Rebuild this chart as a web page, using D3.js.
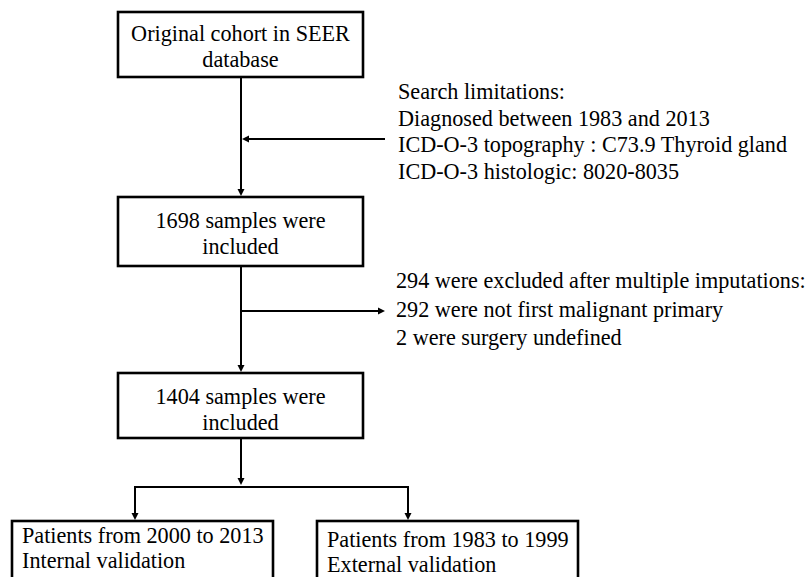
<!DOCTYPE html>
<html>
<head>
<meta charset="utf-8">
<script src="https://cdn.jsdelivr.net/npm/d3@7"></script>
<style>
  body { margin: 0; background: #fff; }
</style>
</head>
<body>
<div id="chart"></div>
<script>
// Flow chart contents
const box_labels = [
    ["Original cohort in SEER", "database"],
    ["1698 samples were", "included"],
    ["1404 samples were", "included"]
];
const split_labels = [
    ["Patients from 2000 to 2013", "Internal validation"],
    ["Patients from 1983 to 1999", "External validation"]
];
const search_notes = [
    "Search limitations:",
    "Diagnosed between 1983 and 2013",
    "ICD-O-3 topography : C73.9 Thyroid gland",
    "ICD-O-3 histologic: 8020-8035"
];
const exclusion_notes = [
    "294 were excluded after multiple imputations:",
    "292 were not first malignant primary",
    "2 were surgery undefined"
];

const chart_width = 810;
const chart_height = 577;
const font_family = '"Liberation Serif"';
const font_size = 22.2;

// layout
const main_left = 118, main_right = 363;
const spine_x = 241;
const box_top = [12, 197, 373];
const box_height = [65, 69, 65];
const box_text_offset = [29, 31, 31];
const split_left = [12, 317], split_right = [273, 578];
const split_top = 521, split_bottom = 610;
const split_text_offset = [22, 26];
const branch_y = 487;
const drop_x = [135, 408];

const svg = d3.create("svg")
    .attr("viewBox", [0, 0, chart_width, chart_height])
    .attr("width", chart_width)
    .attr("height", chart_height);

svg.append("rect")
    .attr("width", chart_width)
    .attr("height", chart_height)
    .attr("fill", "#fff");

function arrowHead(g, x, y, dir) {
    // tip at (x,y); dir: "down" | "left" | "right"
    const len = 7, half = 3.5;
    let pts;
    if (dir === "down") pts = [[x, y], [x - half, y - len], [x + half, y - len]];
    else if (dir === "left") pts = [[x, y], [x + len, y - half], [x + len, y + half]];
    else pts = [[x, y], [x - len, y - half], [x - len, y + half]];
    g.append("path")
        .attr("d", d3.line()(pts) + "Z")
        .attr("fill", "#000");
}

function styleText(sel) {
    return sel.style("font-family", font_family)
        .style("font-size", font_size + "px")
        .attr("fill", "#000");
}

const links = svg.append("g")
    .attr("stroke", "#000")
    .attr("stroke-width", 2)
    .attr("fill", "none");

// main spine arrows between boxes
for (let i = 0; i < box_labels.length - 1; i++) {
    const y0 = box_top[i] + box_height[i];
    const y1 = box_top[i + 1];
    links.append("line").attr("x1", spine_x).attr("x2", spine_x).attr("y1", y0).attr("y2", y1 - 5);
    arrowHead(svg, spine_x, y1 - 1, "down");
}
// from last box to branch
const last_bottom = box_top[2] + box_height[2];
links.append("line").attr("x1", spine_x).attr("x2", spine_x).attr("y1", last_bottom).attr("y2", branch_y - 6);
arrowHead(svg, spine_x, branch_y - 2, "down");

links.append("path")
    .attr("d", d3.line()([[drop_x[0], split_top - 4], [drop_x[0], branch_y], [drop_x[1], branch_y], [drop_x[1], split_top - 4]]));
drop_x.forEach(x => arrowHead(svg, x, split_top - 1, "down"));

// side arrows
const search_y = 139;
links.append("line").attr("x1", 385).attr("x2", spine_x + 6).attr("y1", search_y).attr("y2", search_y);
arrowHead(svg, spine_x + 1, search_y, "left");

const exclude_y = 311;
links.append("line").attr("x1", spine_x).attr("x2", 380).attr("y1", exclude_y).attr("y2", exclude_y);
arrowHead(svg, 385, exclude_y, "right");

// main boxes
const boxes = svg.selectAll("g.box")
    .data(box_labels)
    .join("g")
    .attr("class", "box");

boxes.append("rect")
    .attr("x", main_left)
    .attr("y", (d, i) => box_top[i])
    .attr("width", main_right - main_left)
    .attr("height", (d, i) => box_height[i])
    .attr("fill", "#fff")
    .attr("stroke", "#000")
    .attr("stroke-width", 2.6);

boxes.selectAll("text")
    .data((d, i) => d.map((t, j) => ({t, y: box_top[i] + box_text_offset[i] + j * 26})))
    .join("text")
    .attr("x", (main_left + main_right) / 2)
    .attr("y", d => d.y)
    .attr("text-anchor", "middle")
    .call(styleText)
    .text(d => d.t);

// split boxes
const splits = svg.selectAll("g.split")
    .data(split_labels)
    .join("g")
    .attr("class", "split");

splits.append("rect")
    .attr("x", (d, i) => split_left[i])
    .attr("y", split_top)
    .attr("width", (d, i) => split_right[i] - split_left[i])
    .attr("height", split_bottom - split_top)
    .attr("fill", "#fff")
    .attr("stroke", "#000")
    .attr("stroke-width", 2.6);

splits.selectAll("text")
    .data((d, i) => d.map((t, j) => ({t, x: split_left[i] + 10, y: split_top + split_text_offset[i] + j * 25})))
    .join("text")
    .attr("x", d => d.x)
    .attr("y", d => d.y)
    .call(styleText)
    .text(d => d.t);

// side notes
svg.append("g")
    .selectAll("text")
    .data(search_notes)
    .join("text")
    .attr("x", 398)
    .attr("y", (d, i) => 99 + i * 26.5)
    .call(styleText)
    .text(d => d);

svg.append("g")
    .selectAll("text")
    .data(exclusion_notes)
    .join("text")
    .attr("x", 396)
    .attr("y", (d, i) => 288 + i * 28.5)
    .call(styleText)
    .text(d => d);

document.getElementById("chart").append(svg.node());
</script>
</body>
</html>
